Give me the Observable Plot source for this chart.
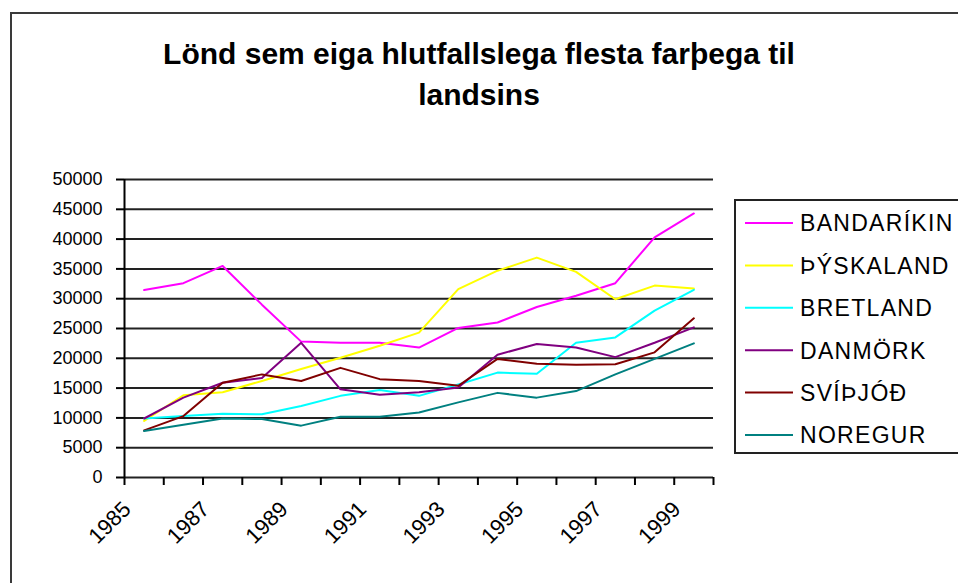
<!DOCTYPE html>
<html>
<head>
<meta charset="utf-8">
<script src="https://cdn.jsdelivr.net/npm/d3@7"></script>
<script src="https://cdn.jsdelivr.net/npm/@observablehq/plot@0.6"></script>
<style>
  html, body { margin: 0; padding: 0; background: #fff; width: 958px; height: 583px; overflow: hidden; }
  #wrap { position: relative; width: 958px; height: 583px; }
  #frame { position: absolute; left: 10px; top: 12px; width: 1000px; height: 1000px; border: 2px solid #3a3a3a; box-sizing: border-box; pointer-events: none; }
  #title { position: absolute; left: 0; top: 33px; width: 958px; text-align: center; font: bold 30px "Liberation Sans", Arial, sans-serif; line-height: 41px; color: #000; }
  #chart { position: absolute; left: 0; top: 0; }
  #legend { position: absolute; left: 0; top: 0; }
</style>
</head>
<body>
<div id="wrap">
  <div id="frame"></div>
  <div id="title">Lönd sem eiga hlutfallslega flesta farþega til<br>landsins</div>
  <div id="chart"></div>
  <svg id="legend" width="958" height="583"></svg>
</div>
<script>
const years = [1985, 1986, 1987, 1988, 1989, 1990, 1991, 1992, 1993, 1994, 1995, 1996, 1997, 1998, 1999];
const labelYears = [1985, 1987, 1989, 1991, 1993, 1995, 1997, 1999];
const yTicks = [0, 5000, 10000, 15000, 20000, 25000, 30000, 35000, 40000, 45000, 50000];

const seriesNames = ["BANDARÍKIN", "ÞÝSKALAND", "BRETLAND", "DANMÖRK", "SVÍÞJÓÐ", "NOREGUR"];
const seriesColors = ["#FF00FF", "#FFFF00", "#00FFFF", "#800080", "#800000", "#008080"];

const bandarikin = [31450, 32600, 35500, 29000, 22800, 22600, 22600, 21800, 25100, 26000, 28600, 30500, 32600, 40300, 44300];
const thyskaland = [9500, 13800, 14300, 16200, 18200, 20100, 22100, 24300, 31600, 34700, 36900, 34500, 29900, 32200, 31700];
const bretland   = [9900, 10300, 10700, 10600, 12000, 13700, 14700, 13700, 15600, 17600, 17400, 22600, 23500, 28000, 31500];
const danmork    = [9900, 13400, 15900, 16700, 22600, 14800, 13900, 14300, 15100, 20600, 22400, 21800, 20200, 22600, 25200];
const svithjod   = [7900, 10300, 15900, 17300, 16200, 18400, 16500, 16200, 15400, 19900, 19100, 18900, 19000, 21000, 26700];
const noregur    = [7800, 8850, 9900, 9800, 8700, 10200, 10200, 10900, 12600, 14200, 13400, 14500, 17300, 19900, 22500];

const seriesValues = [bandarikin, thyskaland, bretland, danmork, svithjod, noregur];

const rows = seriesNames.flatMap((name, i) =>
  years.map((year, j) => ({ name, year, value: seriesValues[i][j] }))
);
const bounds = d3.range(years.length + 1).map(i => years[0] - 0.5 + i);

const FONT = '"Liberation Sans", Arial, sans-serif';

const chart = Plot.plot({
  width: 958,
  height: 583,
  marginLeft: 124,
  marginRight: 245,
  marginTop: 179,
  marginBottom: 106,
  style: { fontFamily: FONT, fontSize: "18px", color: "#000", background: "transparent", overflow: "visible" },
  x: { type: "linear", domain: [years[0] - 0.5, years[years.length - 1] + 0.5], label: null },
  y: { domain: [0, 50000], label: null },
  color: { domain: seriesNames, range: seriesColors },
  marks: [
    Plot.ruleY(yTicks, { stroke: "#222", strokeWidth: 2 }),
    Plot.ruleX([bounds[0]], { y1: 0, y2: 50000, stroke: "#000", strokeWidth: 2 }),
    Plot.axisY({ ticks: yTicks, tickSize: 8, tickPadding: 14, tickFormat: d => String(d), label: null, strokeWidth: 2, stroke: "#000", fontSize: 18 }),
    Plot.axisX({ ticks: bounds, tickSize: 8, tickFormat: () => "", label: null, strokeWidth: 2, stroke: "#000" }),
    Plot.text(labelYears, { x: d => d, text: d => String(d), frameAnchor: "bottom", dx: -17, dy: 28, rotate: -45, textAnchor: "end", lineAnchor: "middle", fontSize: 22, fill: "#000" }),
    Plot.line(rows, { x: "year", y: "value", z: "name", stroke: "name", strokeWidth: 2 })
  ]
});
document.getElementById("chart").appendChild(chart);

// Legend
const lg = d3.select("#legend");
lg.append("rect").attr("x", 735).attr("y", 200).attr("width", 300).attr("height", 253)
  .attr("fill", "#fff").attr("stroke", "#222").attr("stroke-width", 2);
const rowY = d3.scaleLinear().domain([0, seriesNames.length - 1]).range([223, 435]);
seriesNames.forEach((name, i) => {
  const cy = rowY(i);
  lg.append("line").attr("x1", 745).attr("x2", 793).attr("y1", cy).attr("y2", cy)
    .attr("stroke", seriesColors[i]).attr("stroke-width", 2);
  lg.append("text").attr("x", 800).attr("y", cy + 8.3).text(name)
    .attr("font-family", FONT).attr("font-size", 23)
    .attr("letter-spacing", 1.3).attr("fill", "#000");
});
</script>
</body>
</html>
